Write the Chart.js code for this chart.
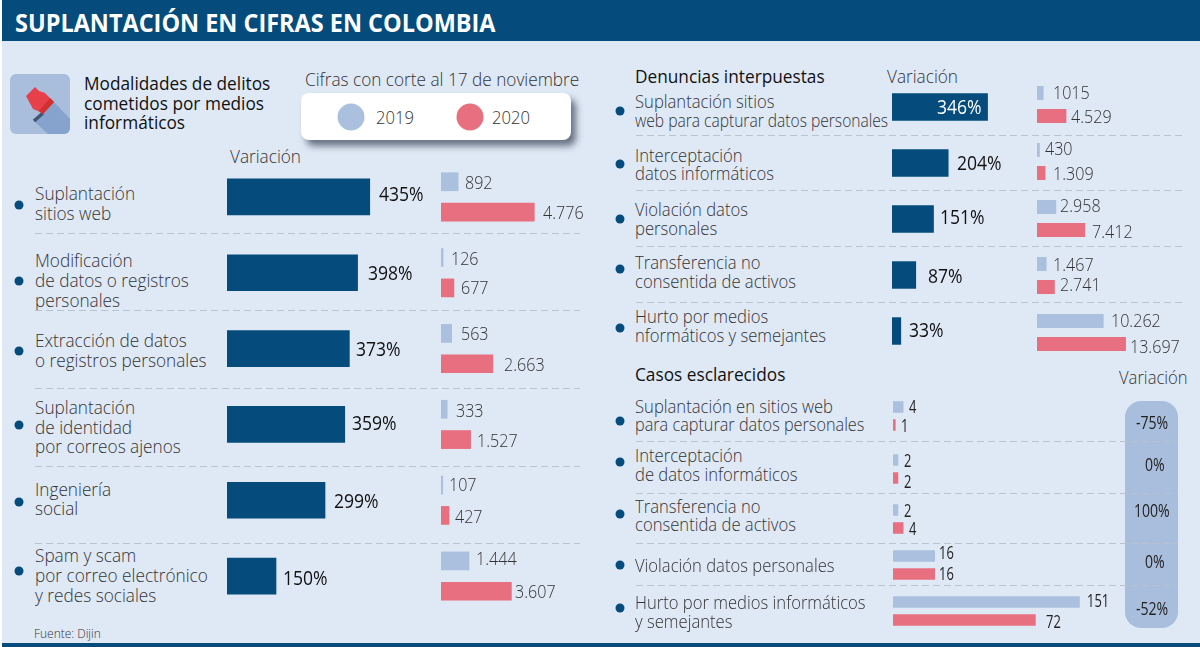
<!DOCTYPE html>
<html lang="es">
<head>
<meta charset="utf-8">
<title>Suplantación en cifras en Colombia</title>
<script src="https://cdn.jsdelivr.net/npm/chart.js@4/dist/chart.umd.js"></script>
<style>
html, body { margin: 0; padding: 0; }
#page { position: relative; width: 1200px; height: 647px; overflow: hidden; background: #fff; font-family: "Open Sans", sans-serif; color: #333; }
#bg { position: absolute; left: 2px; top: 0; right: 0; bottom: 0; background: #dfe9f6; }
#head { position: absolute; left: 2px; top: 0; right: 0; height: 41px; background: #054c7d; }
#foot { position: absolute; left: 2px; bottom: 0; right: 0; height: 4px; background: #054c7d; }
canvas { position: absolute; }
.t { position: absolute; white-space: nowrap; transform-origin: left center; transform: translateY(-50%) scaleX(.905); font-size: 19px; font-weight: 300; line-height: 20px; }
.r { transform: translateY(-50%) scaleX(.875); }
.semi { transform: translateY(-50%) scaleX(.855); }
.tight { transform: translateY(-50%) scaleX(.82); }
.title { color: #fff; font-weight: 700; font-size: 25.5px; transform: translateY(-50%) scaleX(.92); }
.strong { color: #111; font-weight: 500; transform: translateY(-50%) scaleX(.908); }
.pct { color: #111; font-weight: 500; font-size: 19.5px; transform: translateY(-50%) scaleX(.9); }
.pct.inv { color: #fff; }
.num { font-size: 18.5px; transform: translateY(-50%) scaleX(.87); }
.num2 { color: #222; font-weight: 400; transform: translateY(-50%) scaleX(.68); }
.pillv { color: #222; font-weight: 400; transform: translateY(-50%) scaleX(.74); }
.small { font-size: 13px; font-weight: 300; transform: translateY(-50%) scaleX(.92); }
.dot { position: absolute; width: 9px; height: 9px; border-radius: 50%; background: #054c7d; transform: translate(-50%, -50%); }
.sep { position: absolute; height: 1px; background: repeating-linear-gradient(90deg, #b9c3cf 0 7px, transparent 7px 11px); }
#legend { position: absolute; left: 301px; top: 93px; width: 270px; height: 47px; background: #fff; border-radius: 8px; box-shadow: 5px 6px 7px rgba(40,50,70,.65); }
.swatch { position: absolute; width: 27px; height: 27px; border-radius: 50%; transform: translate(-50%, -50%); }
#pill { position: absolute; left: 1125px; top: 401px; width: 53px; height: 227px; border-radius: 16px; background: #a9bedd; }
</style>
</head>
<body>
<div id="page">
  <div id="bg"></div>
  <div id="head"></div>
  <div id="foot"></div>
  <div id="pill"></div>
  <svg style="position:absolute;left:10px;top:74px" width="60" height="60" viewBox="0 0 60 60">
    <rect width="60" height="60" rx="6" fill="#a9bedd"/>
    <path d="M44 28 L60 45 V54 a6 6 0 0 1 -6 6 H38 L24 47 L33 40 Z" fill="#85a3cc"/>
    <path d="M33 39 L24 47" stroke="#3f5570" stroke-width="3.5"/>
    <path d="M16 22 L25 13 L29 17 L35 19 L44 28 L33 40 L28 37 L23 35 Z" fill="#e8404a"/>
    <path d="M40 24 L44 28 L33 40 L29 37 Z" fill="#d2302f"/>
  </svg>
  <div id="legend"></div>
</div>
<script>
// modalidades (left block)
var modalLabels = [
  ["Suplantación", "sitios web"],
  ["Modificación", "de datos o registros", "personales"],
  ["Extracción de datos", "o registros personales"],
  ["Suplantación", "de identidad", "por correos ajenos"],
  ["Ingeniería", "social"],
  ["Spam y scam", "por correo electrónico", "y redes sociales"]
];
var modalVar = [435, 398, 373, 359, 299, 150];
var modal2019 = [892, 126, 563, 333, 107, 1444];
var modal2020 = [4776, 677, 2663, 1527, 427, 3607];

// denuncias interpuestas (top right)
var denunLabels = [
  ["Suplantación sitios", "web para capturar datos personales"],
  ["Interceptación", "datos informáticos"],
  ["Violación datos", "personales"],
  ["Transferencia no", "consentida de activos"],
  ["Hurto por medios", "nformáticos y semejantes"]
];
var denunVar = [346, 204, 151, 87, 33];
var denun2019 = [1015, 430, 2958, 1467, 10262];
var denun2020 = [4529, 1309, 7412, 2741, 13697];
var denunText2019 = ["1015", "430", "2.958", "1.467", "10.262"];

// casos esclarecidos (bottom right)
var casosLabels = [
  ["Suplantación en sitios web", "para capturar datos personales"],
  ["Interceptación", "de datos informáticos"],
  ["Transferencia no", "consentida de activos"],
  ["Violación datos personales"],
  ["Hurto por medios informáticos", "y semejantes"]
];
var casos2019 = [4, 2, 2, 16, 151];
var casos2020 = [1, 2, 4, 16, 72];
var casosVar = ["-75%", "0%", "100%", "0%", "-52%"];

var seriesNames = ["2019", "2020"];
var navy = "#054c7d", blue = "#aac0de", red = "#e86f7f";

var page = document.getElementById("page");

function text(x, y, str, cls) {
  var d = document.createElement("div");
  d.className = "t " + (cls || "");
  d.style.left = x + "px";
  d.style.top = (y - 1) + "px"; // Open Sans sits a little low in its line box
  d.textContent = str;
  page.appendChild(d);
  return d;
}
function dot(x, y) {
  var d = document.createElement("div");
  d.className = "dot";
  d.style.left = x + "px";
  d.style.top = y + "px";
  page.appendChild(d);
}
function sep(x1, x2, y) {
  var d = document.createElement("div");
  d.className = "sep";
  d.style.left = x1 + "px";
  d.style.width = (x2 - x1) + "px";
  d.style.top = y + "px";
  page.appendChild(d);
}
// row label lines, each line with its own centre
function rowText(x, lines, ys, cls) {
  for (var i = 0; i < lines.length; i++) {
    var c = cls;
    if (lines[i].length > 32) c = "tight";
    else if (lines[i].length == 30) c = "semi";
    text(x, ys[i], lines[i], c);
  }
}
function num(v) {
  return String(v).replace(/\B(?=(\d{3})+$)/g, ".");
}

// the casos axis is not proportional in the original, the long bars are squeezed
var LinearScale = Chart.registry.getScale("linear");
class PiecewiseScale extends LinearScale {
  getPixelForValue(v) {
    var k = this.options.knots, i = 1;
    while (i < k.length - 1 && v > k[i][0]) i++;
    var a = k[i - 1], b = k[i];
    return this.left + a[1] + (v - a[0]) / (b[0] - a[0]) * (b[1] - a[1]);
  }
}
PiecewiseScale.id = "piecewise";
PiecewiseScale.defaults = LinearScale.defaults;
Chart.register(PiecewiseScale);

function panel(box, categories, datasets, xScale, catPct, barPct) {
  var c = document.createElement("canvas");
  c.width = box.w;
  c.height = box.h;
  c.style.left = box.x + "px";
  c.style.top = box.y + "px";
  page.appendChild(c);
  return new Chart(c, {
    type: "bar",
    data: {
      labels: categories,
      datasets: datasets.map(function (d) {
        return { label: d.label, data: d.data, backgroundColor: d.color, borderWidth: 0,
                 categoryPercentage: catPct, barPercentage: barPct };
      })
    },
    options: {
      indexAxis: "y",
      responsive: false,
      animation: false,
      layout: { padding: 0 },
      plugins: { legend: { display: false }, tooltip: { enabled: false } },
      scales: {
        x: Object.assign({ display: false, min: 0 }, xScale),
        y: { display: false }
      }
    }
  });
}
// value labels hang off the bar end through the chart's own element positions
function barLabels(chart, box, dsIndex, strs, nudges, cls) {
  var bars = chart.getDatasetMeta(dsIndex).data;
  for (var i = 0; i < bars.length; i++) {
    text(box.x + bars[i].x + nudges[i][0], box.y + bars[i].y + nudges[i][1], strs[i], cls);
  }
}

// header texts
text(15, 23, "SUPLANTACIÓN EN CIFRAS EN COLOMBIA", "title");
text(84, 84, "Modalidades de delitos", "strong");
text(84, 104, "cometidos por medios", "strong");
text(84, 123, "informáticos", "strong");
text(305, 80, "Cifras con corte al 17 de noviembre");
text(230, 157, "Variación");
text(635, 77, "Denuncias interpuestas", "strong");
text(887, 77, "Variación");
text(635, 375, "Casos esclarecidos", "strong");
text(1119, 378, "Variación", "r");
text(34, 634, "Fuente: Dijin", "small");

// legend
[[351, blue, 376], [469.6, red, 492]].forEach(function (l, i) {
  var s = document.createElement("div");
  s.className = "swatch";
  s.style.left = l[0] + "px";
  s.style.top = "117px";
  s.style.background = l[1];
  page.appendChild(s);
  text(l[2], 118, seriesNames[i], "r");
});

// left block
var modalY = [[194, 214], [261, 281, 301], [341, 361], [408, 428, 447], [490, 509], [556, 576, 596]];
var modalDots = [205, 281, 351, 425, 502, 571];
modalLabels.forEach(function (l, i) { rowText(35, l, modalY[i]); dot(18.5, modalDots[i]); });
[233, 310, 388, 466, 543].forEach(function (y) { sep(35, 580, y); });

var lvBox = { x: 227, y: 159.4, w: 200, h: 455 };
var lv = panel(lvBox, modalLabels, [{ label: "Variación", data: modalVar, color: navy }], { max: 608 }, 1, 0.484);
barLabels(lv, lvBox, 0, modalVar.map(function (v) { return v + "%"; }),
  [[9, -2], [10, 1], [6, 1], [7, -1], [9, 1], [7, 3]], "pct");

var lnBox = { x: 441.3, y: 159.4, w: 140, h: 455 };
var ln = panel(lnBox, modalLabels, [
  { label: seriesNames[0], data: modal2019, color: blue },
  { label: seriesNames[1], data: modal2020, color: red }
], { max: 7140 }, 0.8, 0.617);
barLabels(ln, lnBox, 0, modal2019.map(num), [[6, 1], [7, 1], [9, 0], [8, 1], [6, 0], [6, -2]], "num");
barLabels(ln, lnBox, 1, modal2020.map(num), [[8, 1], [6, 0], [10, 1], [6, 1], [5, 1], [3, 0]], "num");

// denuncias
var denunY = [[101.7, 120.7], [155.7, 174], [209.7, 228.7], [263.3, 282], [317.3, 336]];
var denunDots = [111, 163.7, 218.7, 269.3, 328];
denunLabels.forEach(function (l, i) { rowText(635, l, denunY[i], "r"); dot(620.3, denunDots[i]); });
[135.3, 190.3, 246.3, 302].forEach(function (y) { sep(635.6, 1185, y); });

var rvBox = { x: 892, y: 78.5, w: 120, h: 280.5 };
var rv = panel(rvBox, denunLabels, [{ label: "Variación", data: denunVar, color: navy }], { max: 433 }, 1, 0.49);
barLabels(rv, rvBox, 0, denunVar.map(function (v) { return v + "%"; }),
  [[-51, 1], [8.5, 1], [6, -1], [11.5, 2], [7.6, 0]], "pct");
document.querySelectorAll(".pct")[6].classList.add("inv");

var rnBox = { x: 1036.7, y: 76, w: 150, h: 285 };
var rn = panel(rnBox, denunLabels, [
  { label: seriesNames[0], data: denun2019, color: blue },
  { label: seriesNames[1], data: denun2020, color: red }
], { max: 23100 }, 0.807, 0.609);
barLabels(rn, rnBox, 0, denunText2019, [[9.5, 0], [6, -1], [4, -1], [6.5, 1], [7.6, 0]], "num");
barLabels(rn, rnBox, 1, denun2020.map(num), [[4.6, 1], [7.5, 1], [7, 2], [6, -2], [4.4, 3]], "num");

// casos
var casosY = [[406.7, 425], [456, 475], [506.7, 525], [566], [603, 622]];
var casosDots = [420.7, 462, 514, 565, 608];
casosLabels.forEach(function (l, i) { rowText(635, l, casosY[i], "r"); dot(620.3, casosDots[i]); });
[441, 492.7, 543, 585.3].forEach(function (y) { sep(635.6, 1178, y); });

var casosMid = [416, 468.5, 519, 564.5, 610.5];
var casosKnots = [[0, 0], [16, 42], [72, 142.7], [151, 186.8]];
var casos19Nudge = [[6, 0], [6, 1], [6, 1], [4, -3], [7, -1]];
var casos20Nudge = [[6, 1], [6, 4], [6, 1], [4, 0], [10, 2]];
casosMid.forEach(function (mid, i) {
  var box = { x: 892.8, y: mid - 18, w: 240, h: 36 };
  var ch = panel(box, [casosLabels[i].join(" ")], [
    { label: seriesNames[0], data: [casos2019[i]], color: blue },
    { label: seriesNames[1], data: [casos2020[i]], color: red }
  ], { type: "piecewise", max: 151, knots: casosKnots }, 1, 0.64);
  barLabels(ch, box, 0, [String(casos2019[i])], [casos19Nudge[i]], "num2");
  barLabels(ch, box, 1, [String(casos2020[i])], [casos20Nudge[i]], "num2");
});
[[1136, 423], [1144.6, 465], [1134, 510.7], [1144.6, 561.7], [1136, 609]].forEach(function (p, i) {
  text(p[0], p[1], casosVar[i], "pillv");
});
</script>
</body>
</html>
